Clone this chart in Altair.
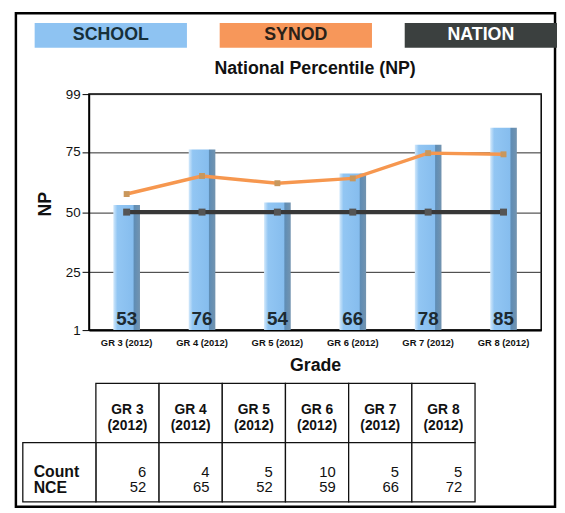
import altair as alt
import pandas as pd

# ---------------- data ----------------
grades = ["GR 3 (2012)", "GR 4 (2012)", "GR 5 (2012)", "GR 6 (2012)", "GR 7 (2012)", "GR 8 (2012)"]
school_np = [53, 76, 54, 66, 78, 85]
synod_np = [57.5, 65, 62, 64, 74.5, 74]
nation_np = [50, 50, 50, 50, 50, 50]
y_ticks = [1, 25, 50, 75, 99]

table_heads = ["GR 3\n(2012)", "GR 4\n(2012)", "GR 5\n(2012)", "GR 6\n(2012)", "GR 7\n(2012)", "GR 8\n(2012)"]
table_count = [6, 4, 5, 10, 5, 5]
table_nce = [52, 65, 52, 59, 66, 72]
row_header = "Count\nNCE"
table_rows = ["head", "data"]

legend_names = ["SCHOOL", "SYNOD", "NATION"]
legend_fill = ["#8ec3f2", "#f7975a", "#3b403f"]
legend_text_color = ["#17303a", "#2a2118", "#ffffff"]

title_text = "National Percentile (NP)"

FONT = "Liberation Sans"
W, H = 458, 239

df = pd.DataFrame({"grade": grades, "school": school_np, "synod": synod_np, "nation": nation_np})

x_main = alt.X("grade:N", sort=grades,
               scale=alt.Scale(domain=grades, paddingInner=0, paddingOuter=0),
               axis=alt.Axis(title="Grade", labelAngle=0, labelFontSize=9.5, labelFontWeight="bold",
                             labelColor="#111", ticks=False, tickSize=0, labelPadding=8,
                             domainColor="#000", domainWidth=2, grid=False,
                             titleFontSize=18, titleFontWeight="bold", titleColor="#111",
                             titlePadding=9))

y_scale = alt.Scale(domain=[1, 99], nice=False, zero=False, clamp=True)
y_axis = alt.Axis(values=y_ticks, title="NP", labelFontSize=13.5, labelColor="#111",
                  tickSize=7, tickColor="#000", labelPadding=2, domainColor="#000",
                  domainWidth=1.5, grid=True, gridColor="#2b2b2b", gridWidth=1,
                  titleFontSize=18, titleFontWeight="bold", titleColor="#111",
                  titleAngle=270, titleX=-44, titleY=111, titleAlign="center",
                  titleBaseline="middle")

bar_grad = alt.Gradient(
    gradient="linear", x1=0, x2=1, y1=0, y2=0,
    stops=[alt.GradientStop(offset=0, color="#d3e9fb"),
           alt.GradientStop(offset=0.15, color="#92c6f3"),
           alt.GradientStop(offset=0.74, color="#86bdee"),
           alt.GradientStop(offset=0.78, color="#5f8db5"),
           alt.GradientStop(offset=1, color="#7394b0")])

bars = alt.Chart(df).mark_bar(size=27, color=bar_grad).encode(
    x=x_main,
    y=alt.Y("school:Q", scale=y_scale, axis=y_axis),
)

synod_line = alt.Chart(df).mark_line(color="#f6974f", strokeWidth=3.5).encode(
    x=x_main, y=alt.Y("synod:Q", scale=y_scale))
synod_pts = alt.Chart(df).mark_point(shape="square", filled=True, size=36, color="#c9975c",
                                     opacity=1).encode(x=x_main, y=alt.Y("synod:Q", scale=y_scale))
nation_line = alt.Chart(df).mark_line(color="#383838", strokeWidth=4.5).encode(
    x=x_main, y=alt.Y("nation:Q", scale=y_scale))
nation_pts = alt.Chart(df).mark_point(shape="square", filled=True, size=50, color="#555555",
                                      opacity=1).encode(x=x_main, y=alt.Y("nation:Q", scale=y_scale))

bar_labels = alt.Chart(df).mark_text(baseline="alphabetic", fontSize=19, fontWeight="bold",
                                     color="#1d2a31").encode(
    x=x_main, y=alt.value(234), text="school:Q")

main_layer = alt.layer(bars, nation_line, synod_line, synod_pts, nation_pts, bar_labels)

# ---------------- frame, title, legend ----------------
one = pd.DataFrame({"t": [title_text]})
border = alt.Chart(one).mark_rect(fill="transparent", stroke="#000", strokeWidth=2.5).encode(
    x=alt.value(-74), x2=alt.value(472), y=alt.value(-82), y2=alt.value(418))
title = alt.Chart(one).mark_text(fontSize=18, fontWeight="bold", color="#111",
                                 baseline="alphabetic", align="center").encode(
    x=alt.value(W / 2), y=alt.value(-20), text="t:N")

df_leg = pd.DataFrame({"name": legend_names})
leg_x = alt.X("name:N", sort=legend_names,
              scale=alt.Scale(domain=legend_names, range=[-55, 474], paddingInner=0.177, paddingOuter=0),
              axis=None)
leg_rect = alt.Chart(df_leg).mark_rect().encode(
    x=leg_x, y=alt.value(-72), y2=alt.value(-47),
    fill=alt.Fill("name:N", scale=alt.Scale(domain=legend_names, range=legend_fill), legend=None))
leg_text = alt.Chart(df_leg).mark_text(fontSize=18, fontWeight="bold", baseline="alphabetic").encode(
    x=leg_x, y=alt.value(-55), text="name:N",
    color=alt.Color("name:N", scale=alt.Scale(domain=legend_names, range=legend_text_color), legend=None))
legend_layer = alt.layer(leg_rect, leg_text)

# ---------------- table ----------------
rows = []
for g, h, c, n in zip(grades, table_heads, table_count, table_nce):
    rows.append({"grade": g, "row": "head", "txt": h})
    rows.append({"grade": g, "row": "data", "txt": f"{c}\n{n}"})
df_tab = pd.DataFrame(rows)

tx = alt.X("grade:N", sort=grades,
           scale=alt.Scale(domain=grades, range=[7, 391], paddingInner=0, paddingOuter=0), axis=None)
ty = alt.Y("row:N", sort=table_rows,
           scale=alt.Scale(domain=table_rows, range=[293, 413], paddingInner=0, paddingOuter=0), axis=None)

cells = alt.Chart(df_tab).mark_rect(fill="white", stroke="#111", strokeWidth=1.3).encode(x=tx, y=ty)
head_txt = alt.Chart(df_tab).transform_filter(alt.datum.row == "head").mark_text(
    fontSize=14, fontWeight="bold", lineBreak="\n", lineHeight=16, baseline="middle",
    color="#111", dy=-3).encode(x=tx, y=ty, text="txt:N")
data_txt = alt.Chart(df_tab).transform_filter(alt.datum.row == "data").mark_text(
    fontSize=15, lineBreak="\n", lineHeight=15, baseline="middle", align="right",
    color="#111", dx=19).encode(x=tx, y=ty, text="txt:N")

df_rh = pd.DataFrame({"row": ["data"], "txt": [row_header]})
rh_cell = alt.Chart(df_rh).mark_rect(fill="white", stroke="#111", strokeWidth=1.3).encode(
    x=alt.value(-67), x2=alt.value(7), y=ty)
rh_txt = alt.Chart(df_rh).mark_text(fontSize=16, fontWeight="bold", lineBreak="\n", lineHeight=16,
                                    baseline="middle", align="left", color="#111").encode(
    x=alt.value(-56), y=ty, text="txt:N")

table_layer = alt.layer(cells, rh_cell, head_txt, data_txt, rh_txt)

chart = alt.layer(border, legend_layer, title, main_layer, table_layer).resolve_scale(
    x="independent", y="independent", color="independent", fill="independent"
).properties(
    width=W, height=H,
    padding={"left": 6, "top": 0, "right": 0, "bottom": 0},
    background="white",
).configure(font=FONT).configure_view(stroke="#000", strokeWidth=1.5)

chart.save("out.html", embed_options={"renderer": "svg", "actions": False})
